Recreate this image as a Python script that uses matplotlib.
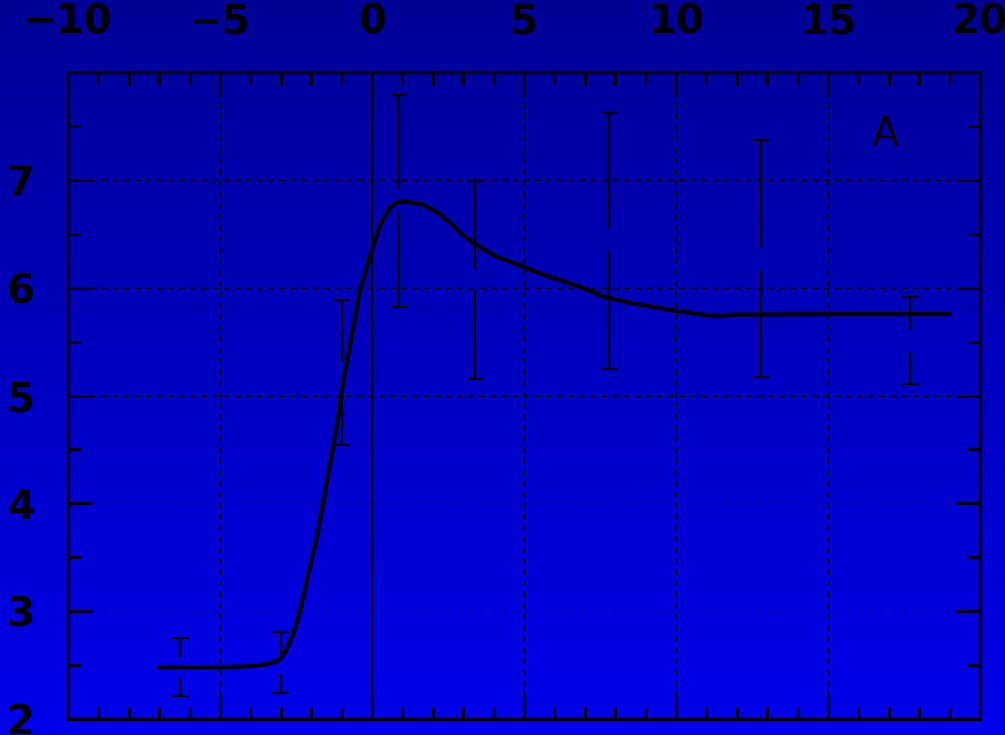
import matplotlib
matplotlib.use('Agg')
import matplotlib.pyplot as plt
import numpy as np
from matplotlib.colors import LinearSegmentedColormap
from matplotlib.ticker import MultipleLocator

# curve
curve_x = [-7.0, -5.0, -4.0, -3.4, -3.1, -2.85, -2.6, -2.37, -1.8, -1.16, -0.94, -0.6,
           -0.39, 0.0, 0.3, 0.59, 0.8, 1.0, 1.3, 1.69, 2.1, 2.46, 3.11, 3.6, 4.1,
           4.98, 5.86, 6.84, 7.6, 8.49, 9.91, 11.0, 11.5, 11.88, 15.0, 19.0]
curve_y = [2.48, 2.48, 2.49, 2.51, 2.54, 2.62, 2.78, 3.0, 3.7, 4.71, 5.14, 5.65,
           5.98, 6.35, 6.6, 6.74, 6.79, 6.80, 6.79, 6.77, 6.71, 6.63, 6.46, 6.37, 6.29,
           6.195, 6.10, 6.01, 5.92, 5.86, 5.79, 5.745, 5.735, 5.75, 5.755, 5.755]

# error bars
err_x = [-6.3, -3.0, -1.0, 0.9, 3.4, 7.8, 12.8, 17.7]
err_y = [2.48, 2.52, 5.22, 6.81, 6.07, 6.44, 6.27, 5.51]
err_lo = [2.21, 2.245, 4.54, 5.825, 5.155, 5.25, 5.175, 5.107]
err_hi = [2.755, 2.81, 5.89, 7.79, 6.99, 7.62, 7.37, 5.91]
gap = 0.095

y_ticks = [2, 3, 4, 5, 6, 7]

fig = plt.figure(figsize=(10.05, 7.35), dpi=100)

# gradient background
bg = fig.add_axes([0, 0, 1, 1], zorder=-10)
cmap = LinearSegmentedColormap.from_list('bg', ['#000096', '#0000eb'])
bg.imshow(np.linspace(0, 1, 256).reshape(-1, 1), aspect='auto', cmap=cmap,
          extent=[0, 1, 0, 1], origin='upper')
bg.axis('off')

ax = fig.add_axes([68 / 1005, 1 - 719 / 735, 912 / 1005, 647 / 735])
ax.set_facecolor('none')
ax.set_xlim(-10, 20)
ax.set_ylim(2, 8)

ax.plot(curve_x, curve_y, color='black', lw=3.0, solid_joinstyle='round', zorder=4)

ex = np.array(err_x)
ey = np.array(err_y)
ax.vlines(ex, ey + gap, err_hi, color='black', lw=1.6, zorder=3)
ax.vlines(ex, err_lo, ey - gap, color='black', lw=1.6, zorder=3)
ax.hlines(err_hi, ex - 0.28, ex + 0.28, color='black', lw=1.6, zorder=3)
ax.hlines(err_lo, ex - 0.28, ex + 0.28, color='black', lw=1.6, zorder=3)

ax.axvline(0, color='black', lw=1.5, zorder=2)
for gx in [-5, 5, 10, 15]:
    ax.axvline(gx, color='black', lw=0.8, ls=(0, (5, 5)), zorder=1)
for gy in [3, 4, 5, 6, 7]:
    ax.axhline(gy, color='black', lw=0.8, ls=(0, (5, 5)), zorder=1)

ax.text(16.9, 7.42, 'A', fontsize=29, ha='center', va='center', color='black')

ax.xaxis.set_major_locator(MultipleLocator(5))
ax.xaxis.set_minor_locator(MultipleLocator(1))
ax.set_yticks(y_ticks)
ax.yaxis.set_minor_locator(MultipleLocator(0.5))
ax.tick_params(which='both', direction='in', top=True, bottom=True, left=True, right=True,
               labeltop=True, labelbottom=False, labelleft=True, labelright=False,
               color='black', width=2)
ax.tick_params(which='major', length=17)
ax.tick_params(which='minor', length=9)
ax.tick_params(axis='x', pad=21, labelsize=29)
ax.tick_params(axis='y', pad=24, labelsize=29)
for lab in ax.get_xticklabels() + ax.get_yticklabels():
    lab.set_fontweight('bold')
for s in ax.spines.values():
    s.set_linewidth(2.3)
    s.set_color('black')

fig.savefig('out.png', dpi=100)
